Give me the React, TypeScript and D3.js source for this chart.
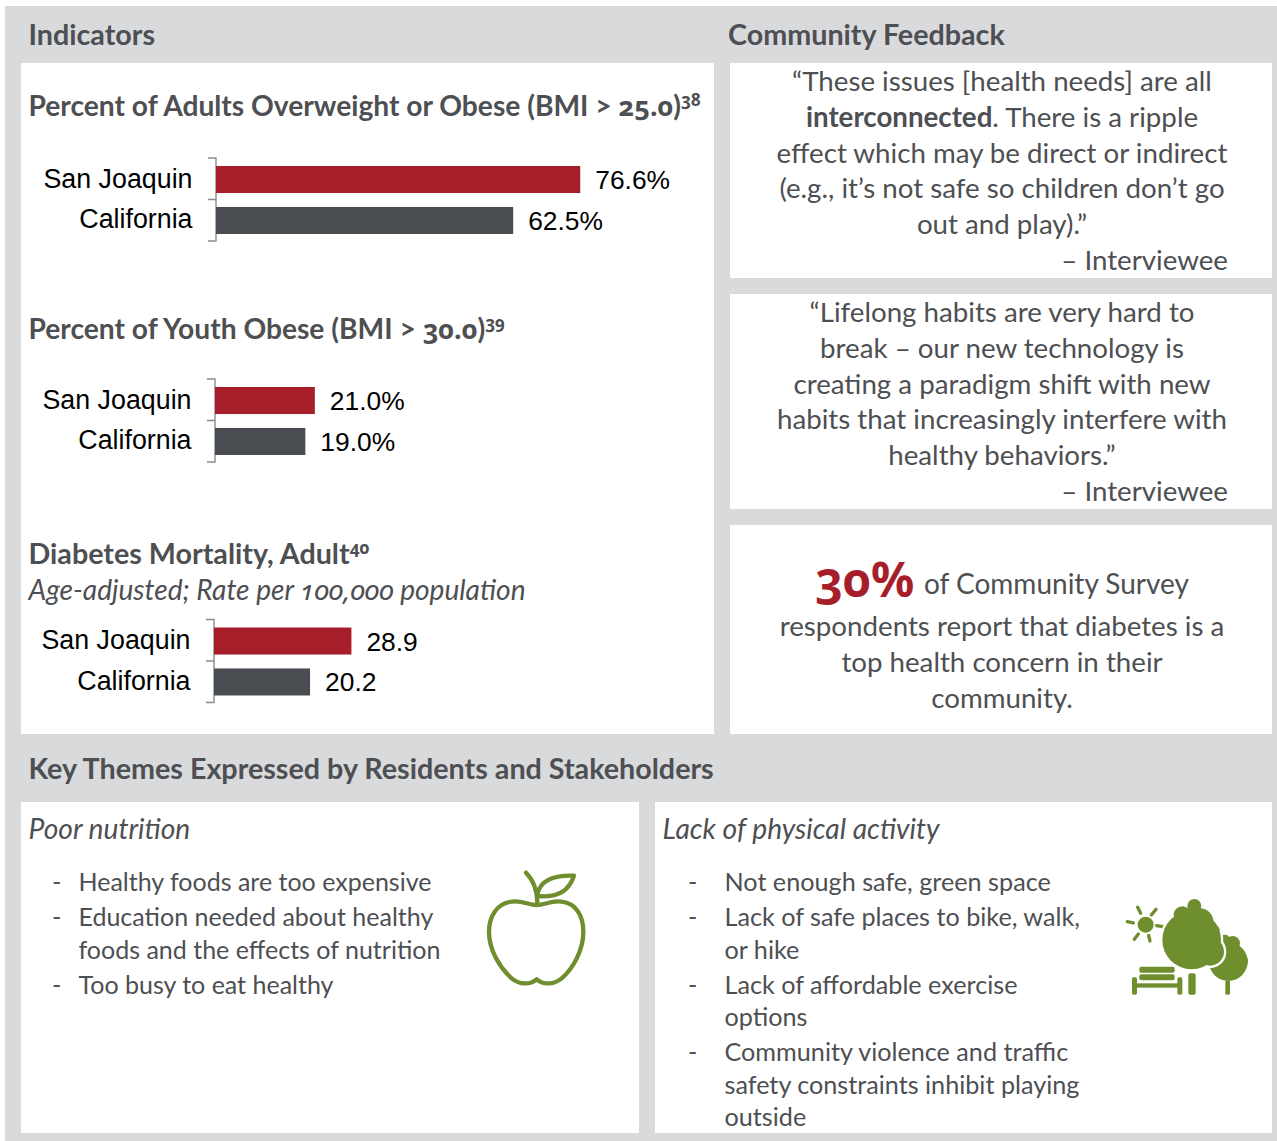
import React from "react";
import * as d3 from "d3";

const W = 1277, H = 1141;
const FONT = "Lato, 'Open Sans', sans-serif";
const NUMFONT = "'Noto Sans', 'Open Sans', sans-serif";
const ARIAL = "'Liberation Sans', Arial, sans-serif";
const GREY = "#d9dadc", INK = "#4d4f53", RED = "#a71e2b", DARK = "#494c50", GREEN = "#6f8f2f";

const categories = ["San Joaquin", "California"];
const adultValues = [76.6, 62.5];
const youthValues = [21.0, 19.0];
const diabetesValues = [28.9, 20.2];
const percent = (v: number) => v.toFixed(1) + "%";
const plain = (v: number) => v.toFixed(1);

const panels = [
  [21, 63, 693, 671], [730, 63, 542, 215], [730, 294, 542, 215], [730, 525, 542, 209],
  [21, 802, 618, 331], [655, 802, 617, 331],
];
const quote1 = ["“These issues [health needs] are all", "", "effect which may be direct or indirect", "(e.g., it’s not safe so children don’t go", "out and play).”"];
const quote2 = ["“Lifelong habits are very hard to", "break – our new technology is", "creating a paradigm shift with new", "habits that increasingly interfere with", "healthy behaviors.”"];
const survey = ["respondents report that diabetes is a", "top health concern in their", "community."];
const nutrition: [string, number][] = [["Healthy foods are too expensive", 891], ["Education needed about healthy", 926], ["foods and the effects of nutrition", 959], ["Too busy to eat healthy", 994]];
const activity: [string, number][] = [["Not enough safe, green space", 891], ["Lack of safe places to bike, walk,", 926], ["or hike", 959], ["Lack of affordable exercise", 994], ["options", 1026], ["Community violence and traffic", 1061], ["safety constraints inhibit playing", 1094], ["outside", 1126]];
const nutritionDash = [891, 926, 994];
const activityDash = [891, 926, 994, 1061];

const x = d3.scaleLinear().domain([0, 100]).range([0, 475.5]);

function Bars({ x0, top, values, fmt }: { x0: number; top: number; values: number[]; fmt: (v: number) => string }) {
  const y = d3.scaleBand().domain(categories).range([top + 8, top + 76]).paddingInner(0.34);
  const mid = top + 41.5;
  return (
    <g>
      <path d={`M${x0 - 8} ${top}H${x0}V${top + 83}H${x0 - 8}M${x0 - 8} ${mid}H${x0}`} fill="none" stroke="#8c8c8c" strokeWidth={1.4} />
      {categories.map((c, i) => {
        const by = y(c)!;
        return (
          <g key={c}>
            <rect x={x0} y={by} width={x(values[i])} height={y.bandwidth()} fill={i === 0 ? RED : DARK} />
            <text x={x0 - 23.5} y={by + 21.5} textAnchor="end" fontFamily={ARIAL} fontSize={26.8} fill="#000">{c}</text>
            <text x={x0 + x(values[i]) + 15} y={by + 23} fontFamily={ARIAL} fontSize={26.4} fill="#000">{fmt(values[i])}</text>
          </g>
        );
      })}
    </g>
  );
}

const T = (p: any) => <text fontFamily={FONT} fill={INK} fontSize={27.7} {...p} />;
const H1 = (p: any) => <T fontWeight={700} fontSize={28.7} {...p} />;
const L = (p: any) => <T fontSize={25.1} {...p} />;
const N = (p: any) => <tspan fontFamily={NUMFONT} style={{ fontFeatureSettings: "'onum'" }} {...p} />;
const Sup = (p: any) => <N dy={-10} fontSize={17} {...p} />;

export default function App() {
  return (
    <svg width={W} height={H} style={{ position: "absolute", left: 0, top: 0, background: "#fff" }}>
      <rect x={5} y={6} width={W - 5} height={H - 6} fill={GREY} />
      {panels.map((p, i) => <rect key={i} x={p[0]} y={p[1]} width={p[2]} height={p[3]} fill="#fff" />)}

      <H1 x={28.5} y={44.5}>Indicators</H1>
      <H1 x={728} y={44.5}>Community Feedback</H1>
      <H1 x={28.5} y={778.5}>Key Themes Expressed by Residents and Stakeholders</H1>

      <H1 x={28.5} y={115.5} fontSize={28.2}>Percent of Adults Overweight or Obese (BMI &gt; <N fontSize={27}>25.0</N>)<Sup>38</Sup></H1>
      <H1 x={28.5} y={338.5} fontSize={28.2}>Percent of Youth Obese (BMI &gt; <N fontSize={27}>30.0</N>)<Sup>39</Sup></H1>
      <H1 x={28.5} y={563.5}>Diabetes Mortality, Adult<Sup>40</Sup></H1>
      <T x={28.5} y={599.5} fontStyle="italic" fontSize={28.1}>Age-adjusted; Rate per <N>100,000</N> population</T>

      <Bars x0={216} top={158} values={adultValues} fmt={percent} />
      <Bars x0={215} top={379} values={youthValues} fmt={percent} />
      <Bars x0={214} top={619.5} values={diabetesValues} fmt={plain} />

      {quote1.map((s, i) => <T key={i} x={1002} y={91 + i * 35.8} textAnchor="middle">{s}</T>)}
      <T x={1002} y={127} textAnchor="middle"><tspan fontWeight={700}>interconnected</tspan>. There is a ripple</T>
      <T x={1228} y={270} textAnchor="end">– Interviewee</T>
      {quote2.map((s, i) => <T key={i} x={1002} y={322 + i * 35.8} textAnchor="middle">{s}</T>)}
      <T x={1228} y={501} textAnchor="end">– Interviewee</T>

      <text x={815} y={597} fontFamily={NUMFONT} fontWeight={700} fontSize={48} fill={RED} style={{ fontFeatureSettings: "'onum'" }}>30%</text>
      <T x={924} y={594} fontSize={28}>of Community Survey</T>
      {survey.map((s, i) => <T key={i} x={1002} y={636 + i * 36} textAnchor="middle">{s}</T>)}

      <T x={28.5} y={838.5} fontStyle="italic" fontSize={28.2}>Poor nutrition</T>
      <T x={662.5} y={838.5} fontStyle="italic" fontSize={28.2}>Lack of physical activity</T>
      {nutritionDash.map(y => <L key={y} x={52} y={y}>-</L>)}
      {nutrition.map(([s, y]) => <L key={s} x={78.5} y={y} fontSize={25}>{s}</L>)}
      {activityDash.map(y => <L key={y} x={688} y={y}>-</L>)}
      {activity.map(([s, y]) => <L key={s} x={724.5} y={y} fontSize={25.2}>{s}</L>)}

      <g transform="translate(470,860) scale(0.3333)" fill="none" stroke={GREEN} strokeWidth={13} strokeLinecap="round" strokeLinejoin="round">
        <path d="M200 135C175 135 155 120 125 125C80 130 57 170 57 215C57 270 90 325 125 355C150 375 180 375 200 358C220 375 250 375 275 355C310 325 340 270 340 215C340 170 320 130 275 125C245 120 225 135 200 135Z" />
        <path d="M168 38C190 60 202 90 202 130" />
        <path d="M203 100C212 60 250 45 312 47C300 85 270 115 205 108Z" />
      </g>

      <g transform="translate(1100,880) scale(0.3333)" fill={GREEN}>
        <circle cx={137} cy={134} r={24} />
        <g stroke={GREEN} strokeWidth={10} strokeLinecap="round">
          <path d="M113 82L122 100M168 88L154 105M188 140L170 137M150 183L146 166M103 178L115 162M82 125L100 129" />
        </g>
        <circle cx={385} cy={245} r={58} />
        <circle cx={420} cy={243} r={24} />
        <circle cx={398} cy={190} r={22} />
        <circle cx={375} cy={178} r={14} />
        <g stroke="#fff" strokeWidth={14}>
          <circle cx={275} cy={180} r={88} />
          <circle cx={330} cy={215} r={42} />
          <circle cx={345} cy={150} r={14} />
        </g>
        <circle cx={283} cy={78} r={21} />
        <circle cx={247} cy={105} r={26} />
        <circle cx={300} cy={125} r={40} />
        <circle cx={275} cy={180} r={88} />
        <circle cx={330} cy={215} r={42} />
        <circle cx={345} cy={150} r={14} />
        <rect x={265} y={280} width={22} height={64} rx={6} />
        <rect x={376} y={302} width={14} height={42} rx={4} />
        <rect x={118} y={260} width={106} height={18} rx={6} />
        <rect x={118} y={283} width={106} height={18} rx={6} />
        <rect x={96} y={292} width={15} height={52} rx={5} />
        <rect x={232} y={292} width={15} height={52} rx={5} />
        <rect x={100} y={310} width={140} height={13} />
      </g>
    </svg>
  );
}
